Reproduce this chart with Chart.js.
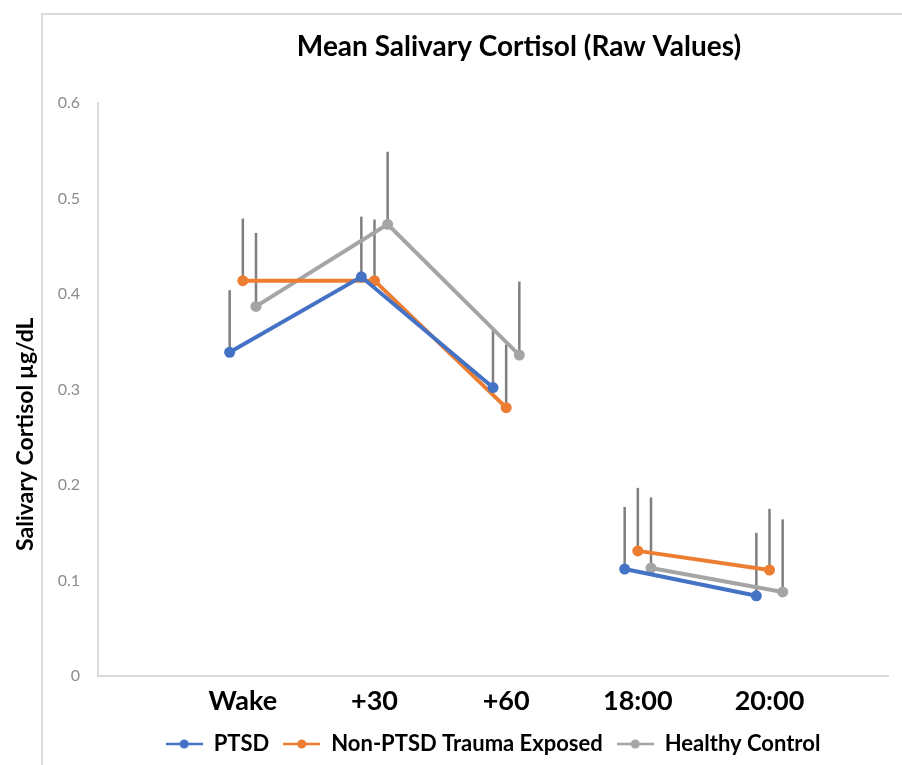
<!DOCTYPE html>
<html>
<head>
<meta charset="utf-8">
<title>Mean Salivary Cortisol (Raw Values)</title>
<script src="https://cdn.jsdelivr.net/npm/chart.js@4.4.1/dist/chart.umd.min.js"></script>
<style>
  html, body { margin: 0; padding: 0; background: #fff; overflow: hidden; }
  #wrap { position: relative; width: 902px; height: 765px; overflow: hidden; }
  #frame { position: absolute; left: 41px; top: 13px; width: 900px; height: 800px;
           border-left: 2px solid #d9d9d9; border-top: 2px solid #d9d9d9; }
  #chart { position: absolute; left: 0; top: 0; }
</style>
</head>
<body>
<div id="wrap">
  <div id="frame"></div>
  <canvas id="chart" width="902" height="765"></canvas>
</div>
<script>
// sampling points
const categories = ['Wake', '+30', '+60', '18:00', '20:00'];
// morning and evening samples are not joined
const gapAfter = 2;

// group means (µg/dL)
const ptsdMeans    = [0.339, 0.418, 0.302, 0.112, 0.084];
const nonPtsdMeans = [0.414, 0.414, 0.281, 0.131, 0.111];
const healthyMeans = [0.387, 0.473, 0.336, 0.113, 0.088];

// upper error bar lengths
const ptsdErr    = [0.065, 0.063, 0.061, 0.065, 0.066];
const nonPtsdErr = [0.065, 0.064, 0.066, 0.066, 0.064];
const healthyErr = [0.077, 0.076, 0.077, 0.074, 0.076];

const seriesNames = ['PTSD', 'Non-PTSD Trauma Exposed', 'Healthy Control'];
const yTicks = [0, 0.1, 0.2, 0.3, 0.4, 0.5, 0.6];

const colors  = ['#4472C4', '#ED7D31', '#A5A5A5'];
const shift   = [0, 0.1, 0.2];   // small horizontal dodge per group, in category units
const FONT    = 'Lato, "Open Sans", sans-serif';

// legend marker: short line with a dot, like the office-style legend
function legendMarker(color) {
  const c = document.createElement('canvas');
  c.width = 37; c.height = 12;
  const g = c.getContext('2d');
  g.strokeStyle = color; g.lineWidth = 2.5;
  g.beginPath(); g.moveTo(0, 6); g.lineTo(37, 6); g.stroke();
  g.fillStyle = color;
  g.beginPath(); g.arc(18.5, 6, 4.5, 0, Math.PI * 2); g.fill();
  return c;
}

function series(means, errs, k) {
  return {
    label: seriesNames[k],
    data: means.map((v, i) => ({ x: i + 1 + shift[k], y: v })),
    errPlus: errs,
    borderColor: colors[k],
    backgroundColor: colors[k],
    borderWidth: 4,
    pointRadius: 5.5,
    pointHoverRadius: 5.5,
    pointBorderWidth: 0,
    tension: 0,
    segment: {
      borderColor: (ctx) => ctx.p0DataIndex === gapAfter ? 'rgba(0,0,0,0)' : undefined
    }
  };
}

const errorBars = {
  id: 'errorBars',
  beforeDatasetsDraw(chart) {
    const { ctx, scales: { x, y } } = chart;
    ctx.save();
    ctx.strokeStyle = '#7f7f7f';
    ctx.lineWidth = 2.5;
    chart.data.datasets.forEach((ds, di) => {
      if (!chart.isDatasetVisible(di)) return;
      ds.data.forEach((p, i) => {
        const px = x.getPixelForValue(p.x);
        ctx.beginPath();
        ctx.moveTo(px, y.getPixelForValue(p.y));
        ctx.lineTo(px, y.getPixelForValue(p.y + ds.errPlus[i]));
        ctx.stroke();
      });
    });
    ctx.restore();
  }
};

// title sits a bit right of centre in the original
const chartTitle = {
  id: 'chartTitle',
  afterDraw(chart, args, opts) {
    const { ctx } = chart;
    ctx.save();
    ctx.font = opts.font;
    ctx.fillStyle = opts.color;
    ctx.textAlign = 'center';
    ctx.textBaseline = 'middle';
    ctx.fillText(opts.text, opts.x, opts.y);
    ctx.restore();
  }
};

const markers = colors.map(legendMarker);

new Chart(document.getElementById('chart'), {
  type: 'line',
  data: {
    datasets: [
      series(ptsdMeans, ptsdErr, 0),
      series(nonPtsdMeans, nonPtsdErr, 1),
      series(healthyMeans, healthyErr, 2)
    ]
  },
  plugins: [errorBars, chartTitle],
  options: {
    responsive: false,
    animation: false,
    devicePixelRatio: 1,
    layout: { padding: { top: 103, right: 14, bottom: 0, left: 0 } },
    scales: {
      x: {
        type: 'linear',
        min: 0,
        max: 6,
        afterFit(scale) { scale.height = 43; },
        afterBuildTicks(scale) {
          scale.ticks = categories.map((c, i) => ({ value: i + 1 + shift[1] }));
        },
        ticks: {
          autoSkip: false,
          maxRotation: 0,
          padding: 9,
          color: '#000',
          font: { family: FONT, size: 27, weight: 'bold' },
          callback: (v) => categories[Math.round(v - 1 - shift[1])]
        },
        grid: { display: false, drawTicks: false },
        border: { display: true, color: '#d9d9d9', width: 2 }
      },
      y: {
        min: 0,
        max: 0.6,
        afterFit(scale) { scale.width = 98; },
        afterBuildTicks(scale) {
          scale.ticks = yTicks.map(v => ({ value: v }));
        },
        ticks: {
          padding: 18,
          color: '#8c8c8c',
          font: { family: FONT, size: 16 },
          callback: (v) => v === 0 ? '0' : v.toFixed(1)
        },
        grid: { display: false, drawTicks: false },
        border: { display: true, color: '#d9d9d9', width: 2 },
        title: {
          display: true,
          text: 'Salivary Cortisol µg/dL' + ' '.repeat(16),
          color: '#000',
          font: { family: FONT, size: 23, weight: 'bold' },
          padding: { top: 12, bottom: 0 }
        }
      }
    },
    plugins: {
      title: { display: false },
      chartTitle: {
        text: 'Mean Salivary Cortisol (Raw Values)',
        x: 519, y: 47,
        color: '#000',
        font: 'bold 28px ' + FONT
      },
      legend: {
        position: 'bottom',
        fullSize: false,
        labels: {
          usePointStyle: true,
          pointStyleWidth: 37,
          padding: 14,
          color: '#000',
          font: { family: FONT, size: 22, weight: 'bold' },
          generateLabels(chart) {
            return Chart.defaults.plugins.legend.labels.generateLabels(chart)
              .map(item => ({ ...item, pointStyle: markers[item.datasetIndex] }));
          }
        }
      },
      tooltip: { enabled: false }
    }
  }
});
</script>
</body>
</html>
